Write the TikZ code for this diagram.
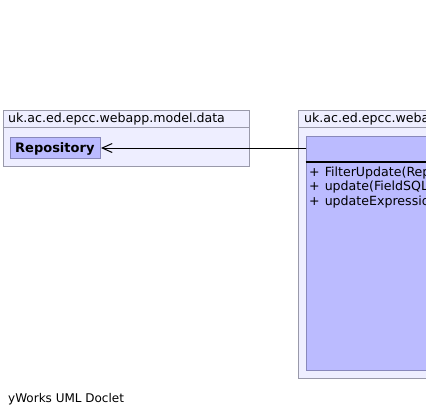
\documentclass[tikz,border=0pt]{standalone}
\usepackage{fontspec}
\setmainfont{DejaVu Sans}
\usetikzlibrary{arrows.meta}

\definecolor{pkgfill}{RGB}{238,238,255}
\definecolor{pkgline}{RGB}{153,153,170}
\definecolor{clsfill}{RGB}{187,187,255}
\definecolor{clsline}{RGB}{136,136,187}

\begin{document}
\begin{tikzpicture}[x=1pt, y=-1pt,
        pkg/.style={draw=pkgline, fill=pkgfill, line width=1pt, anchor=north west, inner sep=0pt},
        cls/.style={draw=clsline, fill=clsfill, line width=1pt, anchor=north west, inner sep=0pt},
        lbl/.style={anchor=base west, inner sep=0pt, font=\fontsize{12.6}{15}\selectfont}]
        \useasboundingbox (0,0) rectangle (426,416);
        \clip (0,0) rectangle (426,416);
        % package model.data
        \node[pkg, minimum width=246, minimum height=56] (datapkg) at (2.5,110) {};
        \draw[pkgline, line width=1pt] (2.5,127) -- (248.5,127);
        \node[lbl] (datapkgname) at (8,122) {uk.ac.ed.epcc.webapp.model.data};
        \node[cls, minimum width=90, minimum height=21] (repo) at (10,137) {};
        \node[lbl, font=\fontsize{13}{15}\selectfont\bfseries] (reponame) at (15,152.5) {Repository};
        % package on the right
        \node[pkg, minimum width=160, minimum height=268] (filterpkg) at (297.5,110) {};
        \draw[pkgline, line width=1pt] (297.5,127) -- (457.5,127);
        \node[lbl] (filterpkgname) at (304,122) {uk.ac.ed.epcc.weba};
        \node[cls, minimum width=140, minimum height=234] (filterupd) at (305.5,136) {};
        \draw[black, line width=2pt] (305.5,162) -- (445.5,162);
        \foreach \yv/\txt/\nm in {176/FilterUpdate(Rep/mone, 190.5/update(FieldSQL/mtwo, 205/updateExpressio/mthree}{
            \node[lbl] (\nm) at (309,\yv) {+\hspace{5pt}\txt};
        }
        % dependency
        \draw[line width=1pt, -{Straight Barb[length=10pt, width=9pt]}] (filterupd.west |- repo.east) -- (repo.east);
        \node[lbl, font=\fontsize{12}{14}\selectfont] (doclet) at (8,402) {yWorks UML Doclet};
\end{tikzpicture}
\end{document}
